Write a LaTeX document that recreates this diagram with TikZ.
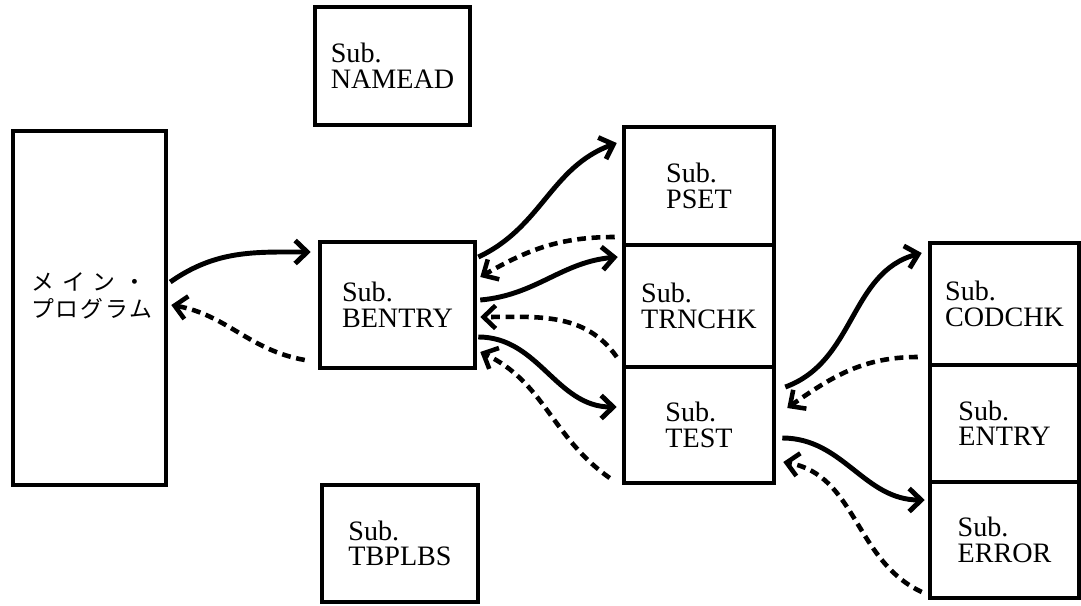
\documentclass[tikz,border=0pt]{standalone}
\usepackage{fontspec}
\setmainfont{Liberation Serif}
\newfontfamily\jpfont{Noto Sans CJK JP}
\usetikzlibrary{arrows.meta}
\tikzset{
  subbox/.style={draw, line width=2.6pt, inner sep=0pt, align=left, font=\fontsize{16}{14.5}\selectfont},
  callarrow/.style={line width=2.8pt, -{Straight Barb[length=2.4mm,width=4.6mm]}},
  retarrow/.style={line width=2.6pt, dash pattern=on 5pt off 3.2pt, -{Straight Barb[length=2.4mm,width=4.6mm]}},
}
\begin{document}
\begin{tikzpicture}[x=0.02cm,y=-0.02cm]
  \useasboundingbox (0,0) rectangle (1081,605);
  % boxes
  \node[subbox, minimum width=3.06cm, minimum height=7.08cm] (main) at (89.5,308) {};
  \node[font=\jpfont\fontsize{13}{15.4}\selectfont, align=left, inner sep=0pt] (mainlbl) at (92,296)
    {メ\hspace{4.5pt}イ\hspace{4.5pt}ン\hspace{4.5pt}・\\プ\hspace{1pt}ロ\hspace{1pt}グ\hspace{1pt}ラ\hspace{1pt}ム};
  \node[subbox, minimum width=3.1cm, minimum height=2.36cm] (namead) at (392.5,66) {Sub.\\NAMEAD};
  \node[subbox, minimum width=3.1cm, minimum height=2.52cm] (bentry) at (397.5,305) {Sub.\\BENTRY};
  \node[subbox, minimum width=3.12cm, minimum height=2.34cm] (tbplbs) at (400,543.5) {Sub.\\TBPLBS};
  \node[subbox, minimum width=3.0cm, minimum height=2.36cm] (pset) at (699,186) {Sub.\\PSET};
  \node[subbox, minimum width=3.0cm, minimum height=2.44cm] (trnchk) at (699,306) {Sub.\\TRNCHK};
  \node[subbox, minimum width=3.0cm, minimum height=2.32cm] (test) at (699,425) {Sub.\\TEST};
  \node[subbox, minimum width=2.98cm, minimum height=2.44cm] (codchk) at (1004.5,304) {Sub.\\CODCHK};
  \node[subbox, minimum width=2.98cm, minimum height=2.34cm] (entry) at (1004.5,423.5) {Sub.\\ENTRY};
  \node[subbox, minimum width=2.98cm, minimum height=2.32cm] (error) at (1004.5,540) {Sub.\\ERROR};
  % calls and returns
  \draw[callarrow] ([xshift=0.04cm,yshift=0.52cm]main.east) to[out=35,in=180] ([xshift=-0.14cm,yshift=1.06cm]bentry.west);
  \draw[retarrow] ([xshift=-0.26cm,yshift=-1.1cm]bentry.west) to[out=170,in=-10] ([xshift=0.06cm,yshift=0.06cm]main.east);
  \draw[callarrow] ([xshift=0.02cm,yshift=0.96cm]bentry.east) to[out=25,in=200] ([xshift=-0.1cm,yshift=0.86cm]pset.west);
  \draw[retarrow] ([xshift=-0.14cm,yshift=-1.02cm]pset.west) to[out=180,in=30] ([xshift=0.06cm,yshift=0.56cm]bentry.east);
  \draw[callarrow] ([xshift=0.06cm,yshift=0.1cm]bentry.east) to[out=5,in=185] ([xshift=-0.08cm,yshift=0.98cm]trnchk.west);
  \draw[retarrow] ([xshift=-0.1cm,yshift=-1.02cm]trnchk.west) to[out=125,in=0] ([xshift=0.06cm,yshift=-0.24cm]bentry.east);
  \draw[callarrow] ([xshift=0.02cm,yshift=-0.64cm]bentry.east) to[out=0,in=180] ([xshift=-0.1cm,yshift=0.36cm]test.west);
  \draw[retarrow] ([xshift=-0.24cm,yshift=-1.06cm]test.west) to[out=145,in=-25] ([xshift=0.06cm,yshift=-0.94cm]bentry.east);
  \draw[callarrow] ([xshift=0.18cm,yshift=0.76cm]test.east) to[out=20,in=195] ([xshift=-0.12cm,yshift=1.02cm]codchk.west);
  \draw[retarrow] ([xshift=-0.2cm,yshift=-1.06cm]codchk.west) to[out=180,in=35] ([xshift=0.22cm,yshift=0.34cm]test.east);
  \draw[callarrow] ([xshift=0.12cm,yshift=-0.26cm]test.east) to[out=0,in=180] ([xshift=-0.06cm,yshift=0.8cm]error.west);
  \draw[retarrow] ([xshift=-0.12cm,yshift=-1.04cm]error.west) to[out=155,in=-10] ([xshift=0.14cm,yshift=-0.74cm]test.east);
\end{tikzpicture}
\end{document}
